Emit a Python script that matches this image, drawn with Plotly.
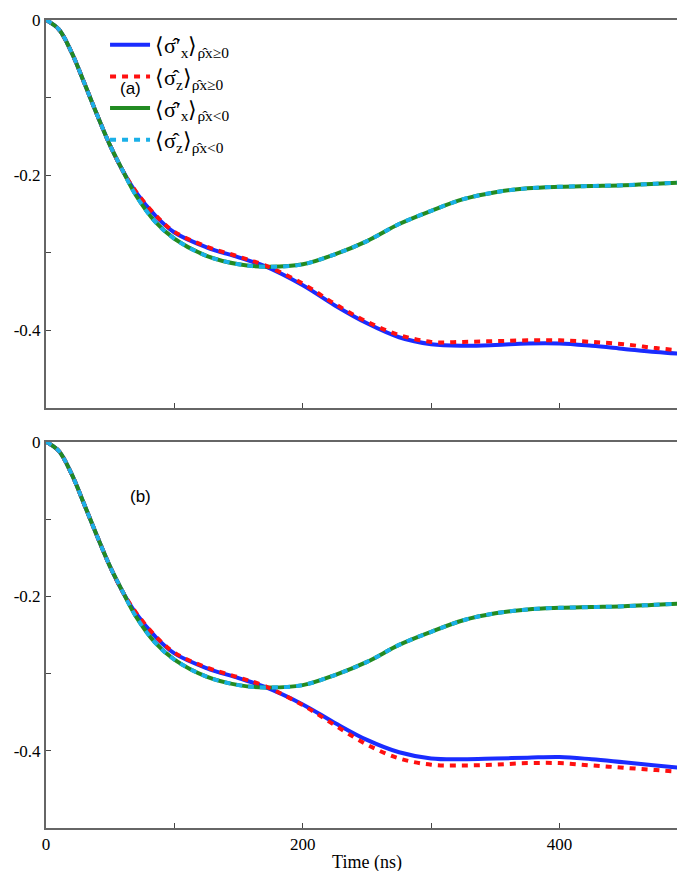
import plotly.graph_objects as go

t = [0, 10, 20, 30, 40, 50, 60, 70, 85, 100, 125, 150, 170, 200, 225, 250, 275, 300, 325, 350, 375, 400, 425, 450, 475, 500]
early = [0, -0.012, -0.042, -0.082, -0.123, -0.162, -0.195]

a_blue = early + [-0.222, -0.252, -0.274, -0.293, -0.306, -0.317, -0.342, -0.368, -0.391, -0.409, -0.418, -0.420, -0.419, -0.417, -0.417, -0.420, -0.424, -0.428, -0.431]
a_red = early + [-0.221, -0.251, -0.273, -0.292, -0.305, -0.316, -0.340, -0.366, -0.389, -0.406, -0.415, -0.415, -0.414, -0.413, -0.413, -0.415, -0.418, -0.423, -0.427]
a_green = early + [-0.226, -0.260, -0.282, -0.304, -0.315, -0.318, -0.315, -0.302, -0.285, -0.263, -0.246, -0.231, -0.222, -0.217, -0.215, -0.214, -0.213, -0.211, -0.209]
a_cyan = a_green

b_blue = early + [-0.222, -0.252, -0.274, -0.293, -0.306, -0.317, -0.340, -0.364, -0.386, -0.402, -0.410, -0.411, -0.410, -0.409, -0.408, -0.411, -0.415, -0.419, -0.423]
b_red = early + [-0.221, -0.251, -0.273, -0.292, -0.305, -0.316, -0.341, -0.367, -0.392, -0.410, -0.418, -0.419, -0.418, -0.416, -0.416, -0.419, -0.422, -0.425, -0.428]
b_green = a_green
b_cyan = a_green

names = ["⟨σ̂′<sub>x</sub>⟩<sub>ρ̂x≥0</sub>", "⟨σ̂<sub>z</sub>⟩<sub>ρ̂x≥0</sub>",
         "⟨σ̂′<sub>x</sub>⟩<sub>ρ̂x<0</sub>", "⟨σ̂<sub>z</sub>⟩<sub>ρ̂x<0</sub>"]
BLUE, GREEN, RED, CYAN = "#1a2cff", "#228b22", "#ff1010", "#1ab0e8"

fig = go.Figure()
def add(y, color, dash, name, ax, show, rank):
    fig.add_trace(go.Scatter(x=t, y=y, mode="lines", line=dict(color=color, width=4, dash=dash, shape="spline", smoothing=1.0),
                             name=name, showlegend=show, legendrank=rank,
                             xaxis="x" if ax == 1 else "x2", yaxis="y" if ax == 1 else "y2"))

for ax, (bl, gr, rd, cy) in [(1, (a_blue, a_green, a_red, a_cyan)), (2, (b_blue, b_green, b_red, b_cyan))]:
    show = ax == 1
    add(bl, BLUE, "solid", names[0], ax, show, 1)
    add(gr, GREEN, "solid", names[2], ax, show, 3)
    add(rd, RED, "6px,6px", names[1], ax, show, 2)
    add(cy, CYAN, "6px,6px", names[3], ax, show, 4)

SERIF = "Liberation Serif, Times New Roman, serif"
font = dict(family=SERIF, size=17, color="black")
xcommon = dict(range=[0, 500], tickvals=[0, 100, 200, 300, 400, 500], ticks="inside", ticklen=5,
               showline=True, linecolor="#666", linewidth=2, mirror=True, showgrid=False, zeroline=False, tickfont=font)
ycommon = dict(range=[-0.5, 0], tickvals=[0, -0.1, -0.2, -0.3, -0.4, -0.5], ticktext=["0", "", "-0.2", "", "-0.4", ""],
               ticks="inside", ticklen=5, showline=True, linecolor="#666", linewidth=2, mirror=True,
               showgrid=False, zeroline=False, tickfont=font)

fig.update_layout(
    width=685, height=871, plot_bgcolor="white", paper_bgcolor="white",
    font=dict(family=SERIF, color="black"),
    margin=dict(l=38, r=3, t=8, b=51),
    xaxis=dict(xcommon, domain=[0, 1], anchor="y", ticktext=[""] * 6),
    yaxis=dict(ycommon, domain=[0.52, 1], anchor="x"),
    xaxis2=dict(xcommon, domain=[0, 1], anchor="y2", ticktext=["0", "", "200", "", "400", ""],
                title=dict(text="Time (ns)", font=dict(family=SERIF, size=18), standoff=2)),
    yaxis2=dict(ycommon, domain=[0, 0.478], anchor="x2"),
    legend=dict(orientation="h", x=0.36, y=0.995, xanchor="left", yanchor="top", entrywidth=140,
                font=dict(family=SERIF, size=22), bgcolor="rgba(0,0,0,0)",
                traceorder="normal", itemwidth=40),
    annotations=[
        dict(text="(a)", x=0.112, y=0.93, xref="paper", yref="paper", showarrow=False,
             font=dict(family="Liberation Sans", size=17)),
        dict(text="(b)", x=0.127, y=0.41, xref="paper", yref="paper", showarrow=False,
             font=dict(family="Liberation Sans", size=17)),
    ],
)
fig.write_html("out.html")
